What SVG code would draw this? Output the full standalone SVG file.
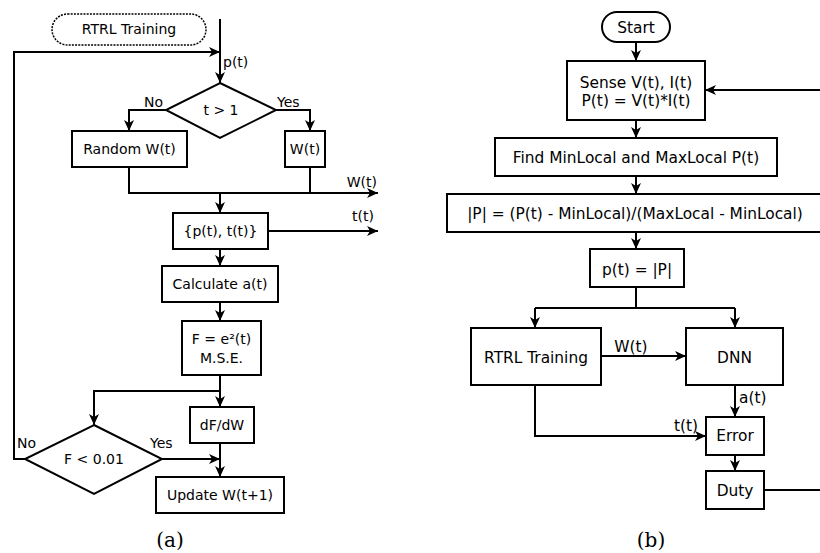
<svg xmlns="http://www.w3.org/2000/svg" width="820" height="553" viewBox="0 0 820 553">
<defs>
<marker id="ah" markerUnits="userSpaceOnUse" markerWidth="12" markerHeight="12" viewBox="0 0 12 12" refX="11" refY="6" orient="auto">
<path d="M0,1 L11,6 L0,11 L3,6 z" fill="#000"/>
</marker>
<style>
.box{fill:#fff;stroke:#000;stroke-width:2}
.dia{fill:#fff;stroke:#000;stroke-width:2;stroke-linejoin:miter}
.ln{fill:none;stroke:#000;stroke-width:2}
.ar{fill:none;stroke:#000;stroke-width:2;marker-end:url(#ah)}
text{font-family:"DejaVu Sans","Liberation Sans",sans-serif;font-size:14px;fill:#000}
.r{font-size:15.4px}
.c{text-anchor:middle}
.e{text-anchor:end}
.cap{font-family:"DejaVu Serif","Liberation Serif",serif;font-size:20px;text-anchor:middle}
</style>
</defs>
<rect width="820" height="553" fill="#fff"/>

<g id="connectors">
<!-- panel a -->
<path class="ar" d="M220,19 V83"/>
<path class="ar" d="M25,459 H14 V52 H220"/>
<path class="ar" d="M166,110 H129 V131"/>
<path class="ar" d="M276,110 H310 V131"/>
<path class="ar" d="M129,167 V193 H378"/>
<path class="ln" d="M310,167 V193"/>
<path class="ar" d="M220,193 V213"/>
<path class="ar" d="M268,231 H378"/>
<path class="ar" d="M220,249 V266"/>
<path class="ar" d="M220,302 V321"/>
<path class="ar" d="M220,375 V407"/>
<path class="ar" d="M220,391 H94 V425"/>
<path class="ar" d="M162,459 H220"/>
<path class="ar" d="M220,443 V477"/>
<!-- panel b -->
<path class="ar" d="M636,42 V61"/>
<path class="ar" d="M764,490 H822 V90 H705"/>
<path class="ar" d="M636,120 V138"/>
<path class="ar" d="M636,176 V194"/>
<path class="ar" d="M636,232 V249"/>
<path class="ln" d="M636,287 V308 M535,308 H735"/>
<path class="ar" d="M535,308 V328"/>
<path class="ar" d="M735,308 V328"/>
<path class="ar" d="M601,356 H686"/>
<path class="ar" d="M735,385 V417"/>
<path class="ar" d="M535,385 V436 H706"/>
<path class="ar" d="M735,455 V471"/>
</g>

<g id="labels">
<text x="223" y="67">p(t)</text>
<text class="e" x="163" y="107">No</text>
<text x="277" y="107">Yes</text>
<text class="e" x="377" y="187">W(t)</text>
<text class="e" x="374" y="221">t(t)</text>
<text x="17" y="448">No</text>
<text x="150" y="448">Yes</text>
<text class="c r" x="631" y="352">W(t)</text>
<text class="r" x="739" y="403">a(t)</text>
<text class="e r" x="698" y="431">t(t)</text>
</g>

<g id="a_start">
<rect x="52" y="14" width="154" height="31" rx="15.5" fill="#fff" stroke="#000" stroke-width="1.5" stroke-dasharray="2,1.2"/>
<text class="c" x="129" y="34">RTRL Training</text>
</g>
<g id="a_dec1">
<polygon class="dia" points="220,83 276,110 220,138 166,110"/>
<text class="c" x="221" y="115">t &gt; 1</text>
</g>
<g id="a_random">
<rect class="box" x="72" y="131" width="115" height="36"/>
<text class="c" x="129.5" y="154">Random W(t)</text>
</g>
<g id="a_w">
<rect class="box" x="285" y="131" width="40" height="36"/>
<text class="c" x="305" y="154">W(t)</text>
</g>
<g id="a_pt">
<rect class="box" x="173" y="213" width="95" height="36"/>
<text class="c" x="220.5" y="236">{p(t), t(t)}</text>
</g>
<g id="a_calc">
<rect class="box" x="162" y="266" width="116" height="36"/>
<text class="c" x="220" y="289">Calculate a(t)</text>
</g>
<g id="a_mse">
<rect class="box" x="182" y="321" width="79" height="54"/>
<text class="c" x="221.5" y="344">F = e²(t)</text>
<text class="c" x="221.5" y="363">M.S.E.</text>
</g>
<g id="a_dfdw">
<rect class="box" x="190" y="407" width="64" height="36"/>
<text class="c" x="222" y="430">dF/dW</text>
</g>
<g id="a_dec2">
<polygon class="dia" points="94,425 162,459 94,494 25,459"/>
<text class="c" x="94" y="464">F &lt; 0.01</text>
</g>
<g id="a_update">
<rect class="box" x="156" y="477" width="128" height="36"/>
<text class="c" x="220" y="500">Update W(t+1)</text>
</g>
<text class="cap" x="170" y="547">(a)</text>

<g id="b_start">
<rect class="box" x="602" y="12" width="68" height="30" rx="15"/>
<text class="c r" x="636" y="32.5">Start</text>
</g>
<g id="b_sense">
<rect class="box" x="567" y="61" width="138" height="59"/>
<text class="c r" x="636" y="87.5">Sense V(t), I(t)</text>
<text class="c r" x="636" y="105.5">P(t) = V(t)*I(t)</text>
</g>
<g id="b_find">
<rect class="box" x="495" y="138" width="282" height="38"/>
<text class="c r" x="636" y="162.5">Find MinLocal and MaxLocal P(t)</text>
</g>
<g id="b_norm">
<rect class="box" x="447" y="194" width="376" height="38"/>
<text class="c r" x="635" y="218.5">|P| = (P(t) - MinLocal)/(MaxLocal - MinLocal)</text>
</g>
<g id="b_p">
<rect class="box" x="590" y="249" width="94" height="38"/>
<text class="c r" x="637" y="274.5">p(t) = |P|</text>
</g>
<g id="b_rtrl">
<rect class="box" x="471" y="328" width="130" height="57"/>
<text class="c r" x="536" y="362.5">RTRL Training</text>
</g>
<g id="b_dnn">
<rect class="box" x="686" y="328" width="97" height="57"/>
<text class="c r" x="734.5" y="362.5">DNN</text>
</g>
<g id="b_error">
<rect class="box" x="706" y="417" width="58" height="38"/>
<text class="c r" x="735" y="440.5">Error</text>
</g>
<g id="b_duty">
<rect class="box" x="706" y="471" width="58" height="38"/>
<text class="c r" x="735" y="495.5">Duty</text>
</g>
<text class="cap" x="651" y="547">(b)</text>
</svg>
